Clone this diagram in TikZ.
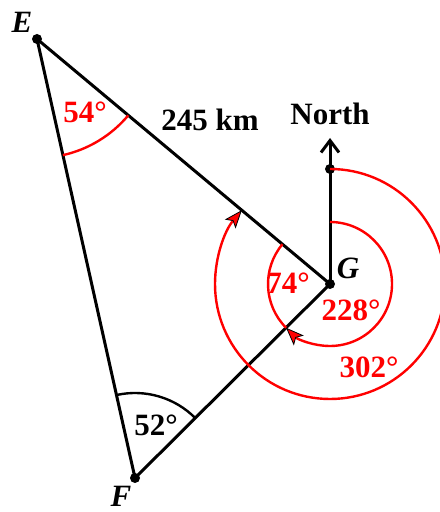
\documentclass[tikz,border=0pt]{standalone}
\usepackage{fontspec}
\setmainfont{Liberation Serif}
\usetikzlibrary{arrows.meta}

\begin{document}
\begin{tikzpicture}[x=0.5pt,y=0.5pt,
  side/.style={line width=1.5pt,black},
  bear/.style={line width=1.2pt,red},
  bearhead/.style={-{Stealth[length=9pt,width=7pt,inset=2pt,color=black,fill=red,line width=0.4pt]}},
  dot/.style={circle,fill=black,inner sep=0pt,minimum size=5pt},
  lbl/.style={font=\fontsize{15.5}{18}\selectfont\bfseries},
  rlbl/.style={lbl,red},
  pt/.style={font=\fontsize{15.5}{18}\selectfont\bfseries\itshape,inner sep=1pt},
]
  \useasboundingbox (0,0) rectangle (439,512);

  % Points
  \node[dot] (E) at (37,473) {};
  \node[dot] (G) at (330,228) {};
  \node[dot] (F) at (135,34) {};
  \node[dot] (N) at (330,343) {};
  \coordinate (Ntip) at (330,374);

  % Triangle
  \draw[side] (E.center) -- (G.center) -- (F.center) -- cycle;
  \draw[side,-{Straight Barb[length=6pt,width=9pt]}] (G.center) -- (Ntip);

  % Bearing arcs at G
  \draw[bear,bearhead] (N.center) arc[start angle=90,end angle=-219.9,radius=115];
  \draw[bear,bearhead] (G.center) ++(90:62) arc[start angle=90,end angle=-135.1,radius=62];
  \draw[bear] (G.center) ++(140.1:62) arc[start angle=140.1,end angle=224.9,radius=62];

  % Angle marks at E and F
  \draw[bear] (E.center) ++(-77.4:119) arc[start angle=-77.4,end angle=-39.9,radius=119];
  \draw[side,line width=1.2pt] (F.center) ++(102.6:85) arc[start angle=102.6,end angle=44.8,radius=85];

  % Labels
  \node[pt] at (22,490) {E};
  \node[pt] at (121,16) {F};
  \node[pt] at (348,244) {G};
  \node[lbl] at (210,392) {245 km};
  \node[lbl] at (330,398) {North};
  \node[rlbl] at (85,400) {54°};
  \node[rlbl] at (288,229) {74°};
  \node[rlbl] at (351,202) {228°};
  \node[rlbl] at (369,145) {302°};
  \node[lbl] at (156,87) {52°};
\end{tikzpicture}
\end{document}
